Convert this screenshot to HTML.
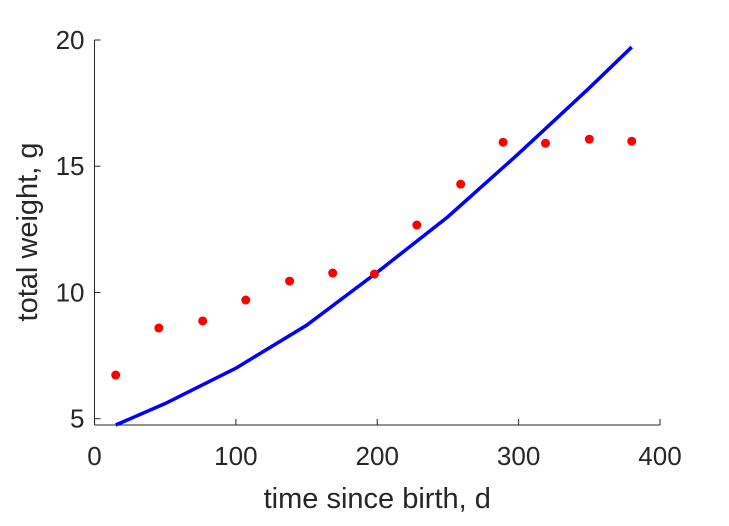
<!DOCTYPE html>
<html><head><meta charset="utf-8"><style>
body{margin:0;background:#fff}
svg text{font-family:"Liberation Sans",Arial,sans-serif;fill:#262626}
</style></head><body>
<svg width="729" height="521" viewBox="0 0 729 521" xmlns="http://www.w3.org/2000/svg">
<g id="plot"></g>
</svg>
<script>
const xTicks=[0,100,200,300,400];
const yTicks=[5,10,15,20];
const obsDays=[15,45.5,76.5,107,138,168.5,198,228,259,289,319,350,380];
const obsWeight=[6.73,8.59,8.87,9.70,10.45,10.77,10.73,12.67,14.29,15.95,15.91,16.07,15.99];
const fitDays=[15,50,100,150,200,250,300,350,380];
const fitWeight=[4.75,5.6,7.0,8.7,10.8,13.0,15.5,18.1,19.72];
const X0=94.5,X1=660,Y0=425,Ytop=40;
const xMin=0,xMax=400,yMin=4.75,yMax=20;
const sx=v=>X0+(v-xMin)/(xMax-xMin)*(X1-X0);
const sy=v=>Y0-(v-yMin)/(yMax-yMin)*(Y0-Ytop);
const NS="http://www.w3.org/2000/svg";
const g=document.getElementById('plot');
function mk(t,a){const e=document.createElementNS(NS,t);for(const k in a)e.setAttribute(k,a[k]);g.appendChild(e);return e;}
let e;
e=mk('line',{x1:X0,y1:Y0,x2:X1,y2:Y0,stroke:'#262626','stroke-width':1});


e=mk('line',{x1:X0,y1:Y0,x2:X0,y2:Ytop,stroke:'#262626','stroke-width':1});


xTicks.forEach(t=>{
 e=mk('line',{x1:sx(t),y1:Y0,x2:sx(t),y2:Y0-6,stroke:'#262626'});
 
 
 e=mk('text',{x:sx(t),y:Y0+40,'text-anchor':'middle','font-size':26});
 e.textContent=t;
 
 
});
yTicks.forEach(t=>{
 e=mk('line',{x1:X0,y1:sy(t),x2:X0+6,y2:sy(t),stroke:'#262626'});
 
 
 e=mk('text',{x:X0-10,y:sy(t)+9,'text-anchor':'end','font-size':26});
 e.textContent=t;
 
 
});
e=mk('path',{d:fitDays.map((d,i)=>(i?'L':'M')+sx(d)+','+sy(fitWeight[i])).join(''),fill:'none',stroke:'#0000ff','stroke-width':3.5});


obsDays.forEach((d,i)=>{
 e=mk('circle',{cx:sx(d),cy:sy(obsWeight[i]),r:4.5,fill:'#ff0000'});
 
 
});
e=mk('text',{x:(X0+X1)/2,y:508,'text-anchor':'middle','font-size':29});
e.textContent='time since birth, d';


e=mk('text',{x:0,y:0,'text-anchor':'middle','font-size':29,transform:'translate(37,232) rotate(-90)'});
e.textContent='total weight, g';


</script>
</body></html>
